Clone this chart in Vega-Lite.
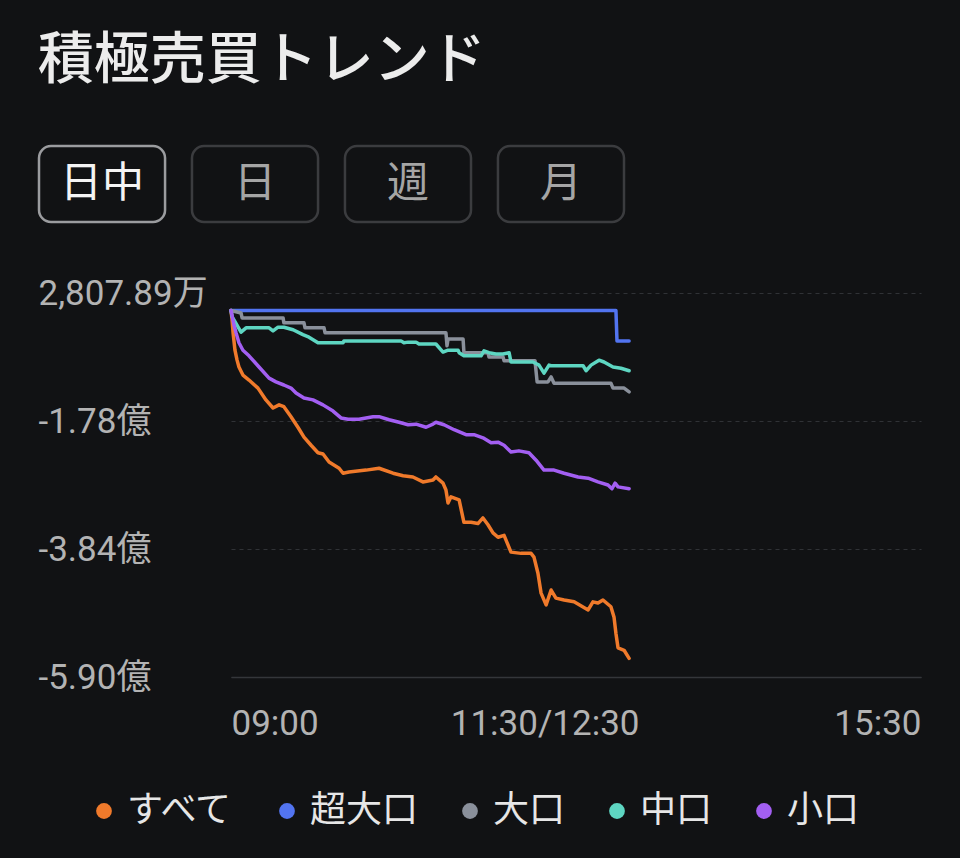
{
  "$schema": "https://vega.github.io/schema/vega-lite/v6.json",
  "background": "#111214",
  "padding": {"left": 37, "top": 32, "right": 40, "bottom": 30},
  "title": {"text": "積極売買トレンド", "anchor": "start", "fontSize": 56, "font": "Noto Sans CJK JP", "fontWeight": 500, "color": "#ececec", "offset": 55},
  "spacing": 52,
  "config": {"view": {"stroke": null}},
  "vconcat": [
    {
      "width": 585,
      "height": 76,
      "data": {"values": [
        {"b": "日中", "sel": 1},
        {"b": "日", "sel": 0},
        {"b": "週", "sel": 0},
        {"b": "月", "sel": 0}
      ]},
      "encoding": {
        "x": {"field": "b", "type": "nominal", "sort": null, "axis": null, "scale": {"range": [-192, 393], "paddingInner": 0.176, "paddingOuter": 0}}
      },
      "layer": [
        {
          "mark": {"type": "rect", "cornerRadius": 12, "fill": "#111214", "strokeWidth": 2.5},
          "encoding": {"stroke": {"condition": {"test": "datum.sel == 1", "value": "#9b9c9f"}, "value": "#3b3c3f"}}
        },
        {
          "mark": {"type": "text", "fontSize": 42, "font": "Noto Sans CJK JP"},
          "encoding": {
            "text": {"field": "b"},
            "color": {"condition": {"test": "datum.sel == 1", "value": "#f4f4f4"}, "value": "#a5a5a5"}
          }
        }
      ]
    },
    {
      "width": 690,
      "height": 384,
      "data": {"values": [
        {"s": "すべて", "t": 0, "v": 0},
        {"s": "すべて", "t": 0.5, "v": -0.15},
        {"s": "すべて", "t": 1.0, "v": -0.36},
        {"s": "すべて", "t": 1.9, "v": -0.64},
        {"s": "すべて", "t": 2.9, "v": -0.8},
        {"s": "すべて", "t": 3.8, "v": -0.91},
        {"s": "すべて", "t": 5.7, "v": -1.04},
        {"s": "すべて", "t": 8.6, "v": -1.12},
        {"s": "すべて", "t": 12.9, "v": -1.25},
        {"s": "すべて", "t": 16.7, "v": -1.44},
        {"s": "すべて", "t": 20.1, "v": -1.57},
        {"s": "すべて", "t": 23.0, "v": -1.52},
        {"s": "すべて", "t": 25.3, "v": -1.55},
        {"s": "すべて", "t": 28.7, "v": -1.71},
        {"s": "すべて", "t": 32.0, "v": -1.88},
        {"s": "すべて", "t": 34.9, "v": -2.04},
        {"s": "すべて", "t": 38.3, "v": -2.17},
        {"s": "すべて", "t": 41.6, "v": -2.29},
        {"s": "すべて", "t": 44.0, "v": -2.31},
        {"s": "すべて", "t": 46.9, "v": -2.44},
        {"s": "すべて", "t": 51.7, "v": -2.54},
        {"s": "すべて", "t": 53.6, "v": -2.62},
        {"s": "すべて", "t": 56.4, "v": -2.6},
        {"s": "すべて", "t": 64.6, "v": -2.57},
        {"s": "すべて", "t": 70.8, "v": -2.54},
        {"s": "すべて", "t": 77.5, "v": -2.62},
        {"s": "すべて", "t": 82.3, "v": -2.66},
        {"s": "すべて", "t": 87.0, "v": -2.68},
        {"s": "すべて", "t": 91.8, "v": -2.76},
        {"s": "すべて", "t": 96.6, "v": -2.73},
        {"s": "すべて", "t": 98.0, "v": -2.68},
        {"s": "すべて", "t": 101.4, "v": -2.78},
        {"s": "すべて", "t": 102.8, "v": -2.89},
        {"s": "すべて", "t": 103.8, "v": -3.1},
        {"s": "すべて", "t": 105.2, "v": -3.0},
        {"s": "すべて", "t": 109.1, "v": -3.05},
        {"s": "すべて", "t": 111.4, "v": -3.41},
        {"s": "すべて", "t": 114.8, "v": -3.41},
        {"s": "すべて", "t": 118.1, "v": -3.43},
        {"s": "すべて", "t": 120.5, "v": -3.34},
        {"s": "すべて", "t": 122.9, "v": -3.45},
        {"s": "すべて", "t": 125.3, "v": -3.58},
        {"s": "すべて", "t": 127.7, "v": -3.65},
        {"s": "すべて", "t": 130.6, "v": -3.62},
        {"s": "すべて", "t": 133.9, "v": -3.89},
        {"s": "すべて", "t": 138.7, "v": -3.91},
        {"s": "すべて", "t": 143.5, "v": -3.91},
        {"s": "すべて", "t": 144.9, "v": -3.97},
        {"s": "すべて", "t": 146.8, "v": -4.23},
        {"s": "すべて", "t": 148.3, "v": -4.55},
        {"s": "すべて", "t": 150.7, "v": -4.74},
        {"s": "すべて", "t": 153.1, "v": -4.5},
        {"s": "すべて", "t": 155.4, "v": -4.63},
        {"s": "すべて", "t": 159.3, "v": -4.66},
        {"s": "すべて", "t": 164.1, "v": -4.69},
        {"s": "すべて", "t": 170.8, "v": -4.82},
        {"s": "すべて", "t": 173.1, "v": -4.69},
        {"s": "すべて", "t": 175.5, "v": -4.71},
        {"s": "すべて", "t": 177.9, "v": -4.66},
        {"s": "すべて", "t": 181.7, "v": -4.77},
        {"s": "すべて", "t": 183.2, "v": -4.94},
        {"s": "すべて", "t": 184.1, "v": -5.2},
        {"s": "すべて", "t": 185.1, "v": -5.43},
        {"s": "すべて", "t": 188.0, "v": -5.47},
        {"s": "すべて", "t": 190.4, "v": -5.6},

        {"s": "超大口", "t": 0, "v": 0},
        {"s": "超大口", "t": 184.1, "v": 0},
        {"s": "超大口", "t": 184.6, "v": -0.49},
        {"s": "超大口", "t": 190.4, "v": -0.49},

        {"s": "大口", "t": 0, "v": 0},
        {"s": "大口", "t": 4.8, "v": -0.04},
        {"s": "大口", "t": 5.3, "v": -0.12},
        {"s": "大口", "t": 24.9, "v": -0.12},
        {"s": "大口", "t": 25.3, "v": -0.2},
        {"s": "大口", "t": 34.9, "v": -0.2},
        {"s": "大口", "t": 35.4, "v": -0.28},
        {"s": "大口", "t": 44.5, "v": -0.28},
        {"s": "大口", "t": 45.0, "v": -0.36},
        {"s": "大口", "t": 102.8, "v": -0.36},
        {"s": "大口", "t": 103.3, "v": -0.57},
        {"s": "大口", "t": 103.8, "v": -0.46},
        {"s": "大口", "t": 111.0, "v": -0.46},
        {"s": "大口", "t": 111.4, "v": -0.68},
        {"s": "大口", "t": 122.9, "v": -0.68},
        {"s": "大口", "t": 123.4, "v": -0.75},
        {"s": "大口", "t": 130.1, "v": -0.75},
        {"s": "大口", "t": 130.6, "v": -0.81},
        {"s": "大口", "t": 145.4, "v": -0.81},
        {"s": "大口", "t": 146.4, "v": -1.15},
        {"s": "大口", "t": 151.6, "v": -1.15},
        {"s": "大口", "t": 153.1, "v": -1.07},
        {"s": "大口", "t": 154.5, "v": -1.17},
        {"s": "大口", "t": 181.7, "v": -1.17},
        {"s": "大口", "t": 182.7, "v": -1.25},
        {"s": "大口", "t": 188.0, "v": -1.25},
        {"s": "大口", "t": 190.4, "v": -1.31},

        {"s": "中口", "t": 0, "v": 0},
        {"s": "中口", "t": 0.5, "v": -0.1},
        {"s": "中口", "t": 4.8, "v": -0.35},
        {"s": "中口", "t": 7.2, "v": -0.28},
        {"s": "中口", "t": 18.2, "v": -0.28},
        {"s": "中口", "t": 20.1, "v": -0.33},
        {"s": "中口", "t": 22.5, "v": -0.27},
        {"s": "中口", "t": 25.3, "v": -0.27},
        {"s": "中口", "t": 29.7, "v": -0.31},
        {"s": "中口", "t": 34.4, "v": -0.39},
        {"s": "中口", "t": 37.3, "v": -0.43},
        {"s": "中口", "t": 41.6, "v": -0.52},
        {"s": "中口", "t": 53.6, "v": -0.52},
        {"s": "中口", "t": 54.0, "v": -0.49},
        {"s": "中口", "t": 81.3, "v": -0.49},
        {"s": "中口", "t": 82.7, "v": -0.52},
        {"s": "中口", "t": 84.7, "v": -0.51},
        {"s": "中口", "t": 88.5, "v": -0.51},
        {"s": "中口", "t": 89.9, "v": -0.54},
        {"s": "中口", "t": 98.0, "v": -0.54},
        {"s": "中口", "t": 101.4, "v": -0.67},
        {"s": "中口", "t": 103.8, "v": -0.64},
        {"s": "中口", "t": 108.6, "v": -0.64},
        {"s": "中口", "t": 109.1, "v": -0.68},
        {"s": "中口", "t": 111.4, "v": -0.73},
        {"s": "中口", "t": 119.6, "v": -0.73},
        {"s": "中口", "t": 121.0, "v": -0.65},
        {"s": "中口", "t": 123.4, "v": -0.68},
        {"s": "中口", "t": 126.7, "v": -0.7},
        {"s": "中口", "t": 130.1, "v": -0.7},
        {"s": "中口", "t": 133.0, "v": -0.68},
        {"s": "中口", "t": 133.9, "v": -0.83},
        {"s": "中口", "t": 144.4, "v": -0.83},
        {"s": "中口", "t": 147.3, "v": -0.88},
        {"s": "中口", "t": 149.7, "v": -1.01},
        {"s": "中口", "t": 152.1, "v": -0.88},
        {"s": "中口", "t": 153.1, "v": -0.89},
        {"s": "中口", "t": 168.4, "v": -0.89},
        {"s": "中口", "t": 169.8, "v": -0.97},
        {"s": "中口", "t": 172.2, "v": -0.88},
        {"s": "中口", "t": 176.0, "v": -0.8},
        {"s": "中口", "t": 178.4, "v": -0.83},
        {"s": "中口", "t": 182.7, "v": -0.91},
        {"s": "中口", "t": 186.5, "v": -0.93},
        {"s": "中口", "t": 190.4, "v": -0.97},

        {"s": "小口", "t": 0, "v": 0},
        {"s": "小口", "t": 1.4, "v": -0.23},
        {"s": "小口", "t": 2.4, "v": -0.36},
        {"s": "小口", "t": 3.8, "v": -0.52},
        {"s": "小口", "t": 5.7, "v": -0.64},
        {"s": "小口", "t": 8.6, "v": -0.73},
        {"s": "小口", "t": 13.4, "v": -0.91},
        {"s": "小口", "t": 18.2, "v": -1.09},
        {"s": "小口", "t": 21.5, "v": -1.15},
        {"s": "小口", "t": 25.3, "v": -1.2},
        {"s": "小口", "t": 28.7, "v": -1.25},
        {"s": "小口", "t": 31.1, "v": -1.33},
        {"s": "小口", "t": 34.9, "v": -1.41},
        {"s": "小口", "t": 39.2, "v": -1.44},
        {"s": "小口", "t": 44.0, "v": -1.52},
        {"s": "小口", "t": 48.8, "v": -1.62},
        {"s": "小口", "t": 52.6, "v": -1.73},
        {"s": "小口", "t": 56.0, "v": -1.75},
        {"s": "小口", "t": 61.2, "v": -1.75},
        {"s": "小口", "t": 67.9, "v": -1.71},
        {"s": "小口", "t": 70.8, "v": -1.71},
        {"s": "小口", "t": 75.6, "v": -1.76},
        {"s": "小口", "t": 80.4, "v": -1.8},
        {"s": "小口", "t": 84.7, "v": -1.84},
        {"s": "小口", "t": 88.5, "v": -1.83},
        {"s": "小口", "t": 93.3, "v": -1.88},
        {"s": "小口", "t": 96.6, "v": -1.83},
        {"s": "小口", "t": 98.0, "v": -1.8},
        {"s": "小口", "t": 101.9, "v": -1.84},
        {"s": "小口", "t": 106.7, "v": -1.92},
        {"s": "小口", "t": 112.4, "v": -2.0},
        {"s": "小口", "t": 116.2, "v": -2.0},
        {"s": "小口", "t": 120.5, "v": -2.05},
        {"s": "小口", "t": 124.4, "v": -2.13},
        {"s": "小口", "t": 127.7, "v": -2.12},
        {"s": "小口", "t": 130.6, "v": -2.17},
        {"s": "小口", "t": 133.9, "v": -2.28},
        {"s": "小口", "t": 137.7, "v": -2.26},
        {"s": "小口", "t": 142.5, "v": -2.29},
        {"s": "小口", "t": 145.9, "v": -2.41},
        {"s": "小口", "t": 149.7, "v": -2.57},
        {"s": "小口", "t": 154.5, "v": -2.57},
        {"s": "小口", "t": 159.3, "v": -2.62},
        {"s": "小口", "t": 166.0, "v": -2.68},
        {"s": "小口", "t": 170.8, "v": -2.7},
        {"s": "小口", "t": 175.5, "v": -2.76},
        {"s": "小口", "t": 180.3, "v": -2.81},
        {"s": "小口", "t": 182.2, "v": -2.87},
        {"s": "小口", "t": 183.7, "v": -2.78},
        {"s": "小口", "t": 185.1, "v": -2.84},
        {"s": "小口", "t": 190.4, "v": -2.87}
      ]},
      "mark": {"type": "line", "strokeWidth": 3.5, "strokeJoin": "round", "strokeCap": "round"},
      "encoding": {
        "x": {
          "field": "t", "type": "quantitative",
          "scale": {"domain": [0, 330], "nice": false, "zero": false},
          "axis": {
            "title": null, "values": [0, 150, 330],
            "labelExpr": "datum.value == 0 ? '09:00' : datum.value == 150 ? '11:30/12:30' : '15:30'",
            "labelFlush": true, "labelLimit": 400, "ticks": false, "tickSize": 0, "grid": false,
            "domain": true, "domainColor": "#34363a", "domainWidth": 1.5,
            "labelPadding": 29, "labelFontSize": 35, "labelColor": "#b3b3b3",
            "labelFont": "Roboto, Noto Sans CJK JP"
          }
        },
        "y": {
          "field": "v", "type": "quantitative",
          "scale": {"domain": [-5.9, 0.280789], "nice": false, "zero": false},
          "axis": {
            "title": null, "values": [0.280789, -1.78, -3.84, -5.9],
            "labelExpr": "datum.value > 0 ? format(datum.value * 10000, ',.2f') + '万' : '-' + format(abs(datum.value), '.2f') + '億'",
            "ticks": false, "tickSize": 0, "domain": false,
            "grid": true, "gridColor": "#303236", "gridDash": [4, 4], "gridWidth": 1.2,
            "labelAlign": "left", "labelBaseline": "middle", "labelPadding": 193,
            "labelFontSize": 35, "labelColor": "#b3b3b3", "labelLimit": 400,
            "labelFont": "Roboto, Noto Sans CJK JP"
          }
        },
        "color": {
          "field": "s", "type": "nominal",
          "sort": ["すべて", "超大口", "大口", "中口", "小口"],
          "scale": {
            "domain": ["すべて", "超大口", "大口", "中口", "小口"],
            "range": ["#f07a2b", "#5274f0", "#8a909b", "#5ed6c2", "#a35ff2"]
          },
          "legend": {
            "title": null, "orient": "none", "direction": "horizontal",
            "legendX": -145, "legendY": 647, "padding": 0,
            "symbolType": "circle", "symbolSize": 250, "symbolStrokeWidth": 0,
            "labelFontSize": 36, "labelFont": "Noto Sans CJK JP", "labelColor": "#e6e6e6",
            "labelOffset": 5, "columnPadding": 33, "labelLimit": 300,
            "encode": {"symbols": {"update": {"fill": {"scale": "color", "field": "value"}, "opacity": {"value": 1}}}}
          }
        }
      }
    }
  ]
}
